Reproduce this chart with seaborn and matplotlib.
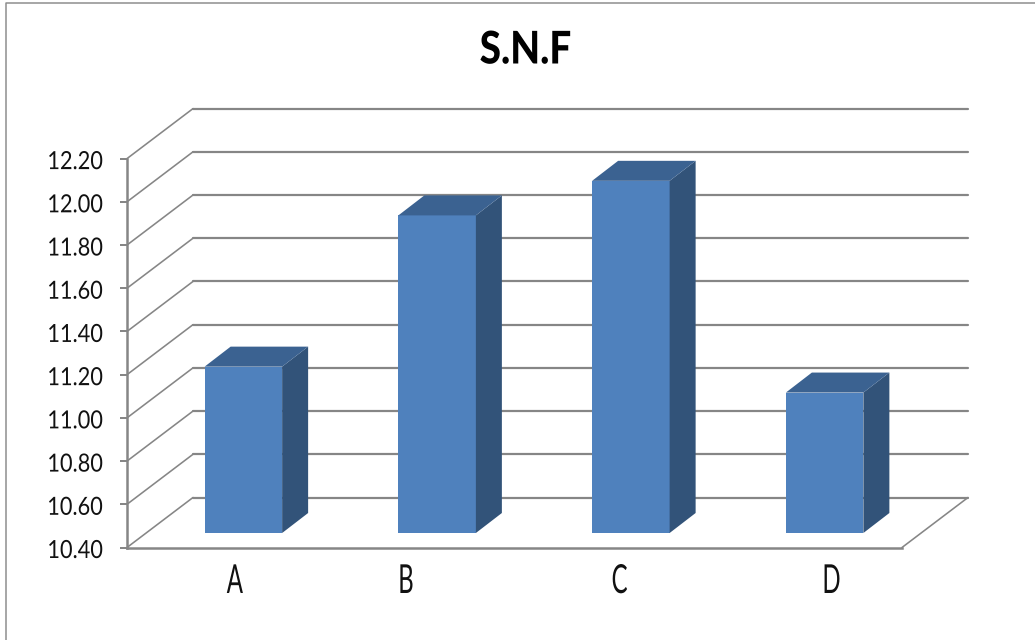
import matplotlib
matplotlib.use("Agg")
import matplotlib.pyplot as plt
from matplotlib.lines import Line2D
from matplotlib.patches import Polygon
from matplotlib.patheffects import AbstractPathEffect
from matplotlib.transforms import Affine2D, IdentityTransform, ScaledTranslation
import numpy as np
import pandas as pd
import seaborn as sns

categories = ["A", "B", "C", "D"]
snf_values = [11.17, 11.87, 12.03, 11.05]
y_ticks = [10.40, 10.60, 10.80, 11.00, 11.20, 11.40, 11.60, 11.80, 12.00, 12.20]
title_text = "S.N.F"

W, H, DPI = 1035, 640, 100
sns.set_theme(style="white")
plt.rcParams["font.family"] = ["Lato", "DejaVu Sans"]

GREY = "#868686"
FRONT, SIDE, TOP = "#4F81BD", "#325379", "#3B6291"
WALL = (66, 50)       # px depth of the floor
BAR_SHIFT = (19.5, 14.5)  # px placement of the bars inside the floor
BAR_DEPTH = (26, 20)  # px depth of each bar


def px(points):
    return points * 72 / DPI


class Squeeze(AbstractPathEffect):
    """Draw a real text narrower, keeping its right edge or its centre in place."""

    def __init__(self, sx, anchor="center"):
        super().__init__()
        self.sx, self.anchor = sx, anchor

    def draw_path(self, renderer, gc, tpath, affine, rgbFace=None):
        ext = tpath.get_extents()
        pivot = ext.x1 if self.anchor == "right" else (ext.x0 + ext.x1) / 2
        squeeze = Affine2D().translate(-pivot, 0).scale(self.sx, 1).translate(pivot, 0)
        renderer.draw_path(gc, tpath, squeeze + affine, rgbFace)


fig = plt.figure(figsize=(W / DPI, H / DPI), dpi=DPI, facecolor="white")
ax = fig.add_axes([127 / W, (H - 547.5) / H, 775 / W, 388.9 / H])
df = pd.DataFrame({"group": categories, "snf": snf_values})
sns.barplot(data=df, x="group", y="snf", ax=ax, color=FRONT, saturation=1,
            width=0.4, linewidth=0, errorbar=None)
ax.set_xlim(-0.5, len(categories) - 0.5)
ax.set_ylim(y_ticks[0], y_ticks[-1])
ax.set_xlabel("")
ax.set_ylabel("")
ax.patch.set_alpha(0)


def shifted(dx, dy):
    return ScaledTranslation(dx / DPI, dy / DPI, fig.dpi_scale_trans)


# back wall, floor and gridlines, derived from the axis scale
x0, x1 = ax.get_xlim()
wall_tr = ax.transData + shifted(*WALL)
for v in y_ticks:
    a = ax.transData.transform((x0, v))
    b = wall_tr.transform((x0, v))
    c = wall_tr.transform((x1, v))
    ax.add_artist(Line2D([a[0], b[0]], [a[1], b[1]], color=GREY, lw=px(1.6),
                         transform=IdentityTransform(), clip_on=False, zorder=0.5))
    ax.add_artist(Line2D([b[0], c[0]], [b[1], c[1]], color=GREY, lw=px(2.2),
                         transform=IdentityTransform(), clip_on=False, zorder=0.5))
a = ax.transData.transform((x1, y_ticks[0]))
ax.add_artist(Line2D([a[0], a[0] + WALL[0]], [a[1], a[1] + WALL[1]], color=GREY, lw=px(1.6),
                     transform=IdentityTransform(), clip_on=False, zorder=0.5))

# extruded bars
bar_tr = ax.transData + shifted(*BAR_SHIFT)
for patch, value in zip(ax.patches, snf_values):
    left, width = patch.get_x(), patch.get_width()
    patch.set_y(y_ticks[0])
    patch.set_height(value - y_ticks[0])
    patch.set_transform(bar_tr)
    patch.set_clip_on(False)
    patch.set_zorder(3)
    br = bar_tr.transform((left + width, y_ticks[0]))
    tl = bar_tr.transform((left, value))
    tr = bar_tr.transform((left + width, value))
    d = np.array(BAR_DEPTH)
    ax.add_artist(Polygon([br, tr, tr + d, br + d], closed=True, facecolor=SIDE, edgecolor="none",
                          transform=IdentityTransform(), clip_on=False, zorder=3))
    ax.add_artist(Polygon([tl, tr, tr + d, tl + d], closed=True, facecolor=TOP, edgecolor="none",
                          transform=IdentityTransform(), clip_on=False, zorder=3))

# axes
sns.despine(ax=ax, top=True, right=True)
for side in ("left", "bottom"):
    ax.spines[side].set_color(GREY)
    ax.spines[side].set_linewidth(px(2.5))
    ax.spines[side].set_zorder(2.5)
ax.set_yticks(y_ticks)
ax.set_yticklabels([f"{v:.2f}" for v in y_ticks])
ax.tick_params(axis="y", left=True, length=px(7), width=px(2), color=GREY, pad=px(17),
               labelsize=px(25), labelcolor="#111111")
ax.tick_params(axis="x", bottom=False, length=0, pad=px(15.5), labelsize=px(40), labelcolor="#111111")
label_offsets = [11, -12, 8, 26]
for lab, off in zip(ax.get_xticklabels(), label_offsets):
    lab.set_transform(lab.get_transform() + shifted(off, 0))
    lab.set_path_effects([Squeeze(0.6)])
for lab in ax.get_yticklabels():
    lab.set_transform(lab.get_transform() + shifted(0, -1))
    lab.set_path_effects([Squeeze(0.87, "right")])

title = ax.set_title(title_text, x=(525.5 - 127) / 775, y=(547.5 - 63.5) / 388.9, pad=0, fontsize=px(45),
                     fontweight=900, color="black", va="baseline", ha="center")
title.set_path_effects([Squeeze(0.86)])

# outer chart frame (runs off the image at the right and the bottom)
fig.add_artist(Line2D([5.5 / W, 5.5 / W, 1], [0, (H - 2.5) / H, (H - 2.5) / H], color="#8C8C8C",
                      lw=px(1.5), transform=fig.transFigure))

fig.savefig("out.png", dpi=DPI)
